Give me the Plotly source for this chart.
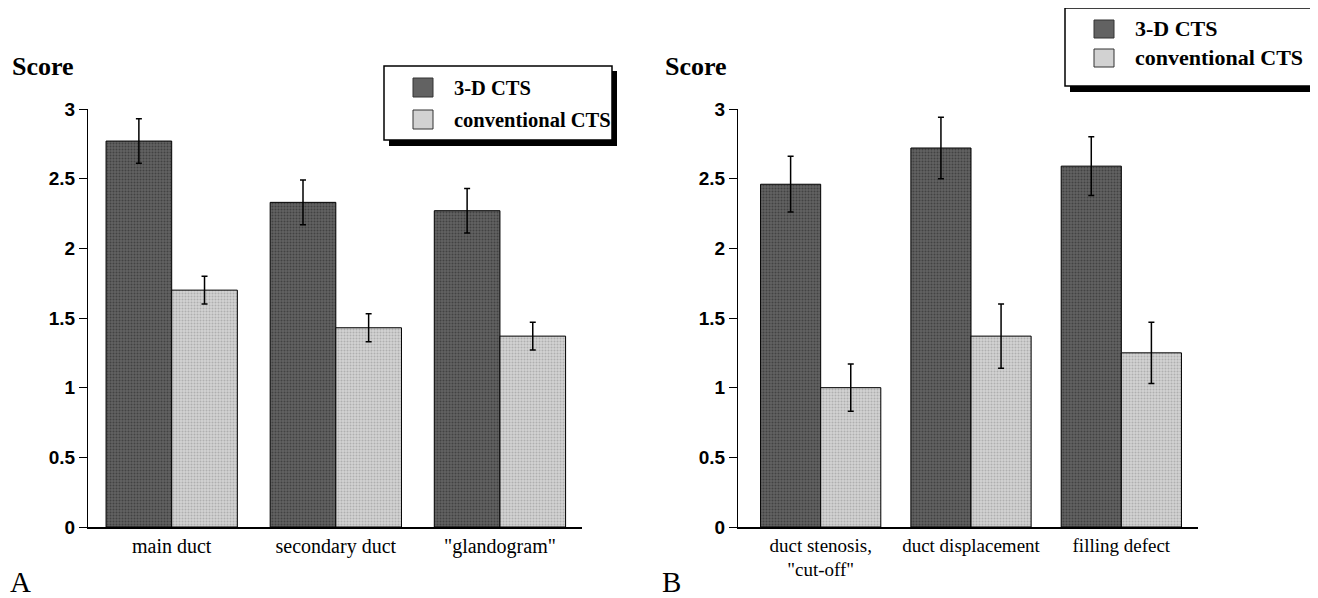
import plotly.graph_objects as go

W, H = 1318, 598
OFF = 8  # page offset of the rendered figure

cats_a = ["main duct", "secondary duct", "\"glandogram\""]
cts3d_a = [2.77, 2.33, 2.27]
cts3d_a_err = [0.16, 0.16, 0.16]
conv_a = [1.70, 1.43, 1.37]
conv_a_err = [0.10, 0.10, 0.10]

cats_b = ["duct stenosis,<br>\"cut-off\"", "duct displacement", "filling defect"]
cts3d_b = [2.46, 2.72, 2.59]
cts3d_b_err = [0.20, 0.22, 0.21]
conv_b = [1.00, 1.37, 1.25]
conv_b_err = [0.17, 0.23, 0.22]

series_names = ["3-D CTS", "conventional CTS"]

ytick_vals = [0, 0.5, 1, 1.5, 2, 2.5, 3]
ytick_text = ["0", "0.5", "1", "1.5", "2", "2.5", "3"]

DARK = "#505050"
LIGHT = "#bcbcbc"
DARK_PAT = dict(shape=".", fgcolor="#222222", bgcolor="#626262", size=3, solidity=0.35)
LIGHT_PAT = dict(shape=".", fgcolor="#8c8c8c", bgcolor="#d2d2d2", size=3, solidity=0.35)
SERIF = "Liberation Serif"
SANS = "Liberation Sans"


def px_x(p):
    return (p - OFF) / W


def px_y(p):
    return 1 - (p - OFF) / H


fig = go.Figure()


def add_pair(cats, v1, e1, v2, e2, xa, ya):
    fig.add_trace(go.Bar(
        x=list(range(len(cats))), y=v1, name=series_names[0],
        marker=dict(color=DARK, line=dict(color="black", width=1), pattern=DARK_PAT),
        error_y=dict(type="data", array=e1, color="black", thickness=1.5, width=3),
        xaxis=xa, yaxis=ya, showlegend=False))
    fig.add_trace(go.Bar(
        x=list(range(len(cats))), y=v2, name=series_names[1],
        marker=dict(color=LIGHT, line=dict(color="black", width=1), pattern=LIGHT_PAT),
        error_y=dict(type="data", array=e2, color="black", thickness=1.5, width=3),
        xaxis=xa, yaxis=ya, showlegend=False))


add_pair(cats_a, cts3d_a, cts3d_a_err, conv_a, conv_a_err, "x", "y")
add_pair(cats_b, cts3d_b, cts3d_b_err, conv_b, conv_b_err, "x2", "y2")

xcommon = dict(showline=True, linecolor="black", linewidth=1.5, ticks="", showgrid=False,
               zeroline=False, automargin=False)
ycommon = dict(range=[0, 3], tickvals=ytick_vals, ticktext=ytick_text, showline=True,
               linecolor="black", linewidth=1, ticks="outside", ticklen=8, tickcolor="black",
               tickwidth=1, showgrid=False, zeroline=False, automargin=False,
               tickfont=dict(family=SANS, size=19, color="black", weight="bold"))

fig.update_layout(
    width=W, height=H,
    paper_bgcolor="white", plot_bgcolor="white",
    margin=dict(l=0, r=0, t=0, b=0, autoexpand=False),
    barmode="group", bargap=0.2, bargroupgap=0,
    xaxis=dict(domain=[px_x(88), px_x(582)], range=[-0.51, 2.5], anchor="y",
               tickvals=[0, 1, 2], ticktext=cats_a,
               tickfont=dict(family=SERIF, size=20, color="black"), **xcommon),
    yaxis=dict(domain=[px_y(527), px_y(109)], anchor="x", **ycommon),
    xaxis2=dict(domain=[px_x(738), px_x(1198)], range=[-0.55, 2.51], anchor="y2",
                tickvals=[0, 1, 2], ticktext=cats_b,
                tickfont=dict(family=SERIF, size=19, color="black"), **xcommon),
    yaxis2=dict(domain=[px_y(527), px_y(109)], anchor="x2", **ycommon),
    showlegend=False,
)


def draw_legend(box, sw_x, sw_ys, text_x, text_ys, fsize):
    x0, y0, x1, y1 = box
    # drop shadow
    fig.add_shape(type="rect", xref="paper", yref="paper",
                  x0=px_x(x0 + 5), x1=px_x(x1 + 5), y0=px_y(y1 + 6), y1=px_y(y0 + 5),
                  fillcolor="black", line=dict(width=0), layer="above")
    fig.add_shape(type="rect", xref="paper", yref="paper",
                  x0=px_x(x0), x1=px_x(x1), y0=px_y(y1), y1=px_y(y0),
                  fillcolor="white", line=dict(color="black", width=1.5), layer="above")
    for (sy0, sy1), pat in zip(sw_ys, [DARK_PAT, LIGHT_PAT]):
        fig.add_shape(type="rect", xref="paper", yref="paper",
                      x0=px_x(sw_x[0]), x1=px_x(sw_x[1]), y0=px_y(sy1), y1=px_y(sy0),
                      fillcolor=pat["bgcolor"], line=dict(color="#333333", width=1),
                      layer="above")
    for name, ty in zip(series_names, text_ys):
        fig.add_annotation(text=name, xref="paper", yref="paper", x=px_x(text_x), y=px_y(ty),
                           xanchor="left", yanchor="middle", showarrow=False,
                           font=dict(family=SERIF, size=fsize, color="black", weight="bold"))


draw_legend((384, 66, 612, 140), (413, 433), [(78, 97), (110, 129)], 452, [88, 120], 20.5)
draw_legend((1065, 8, 1311, 86), (1094, 1114), [(20, 38), (49, 67)], 1133, [29, 58], 22)

ann_font_score = dict(family=SERIF, size=26, color="black", weight="bold")
fig.add_annotation(text="Score", xref="paper", yref="paper", x=px_x(10), y=px_y(66),
                   xanchor="left", yanchor="middle", showarrow=False, font=ann_font_score)
fig.add_annotation(text="Score", xref="paper", yref="paper", x=px_x(663), y=px_y(66),
                   xanchor="left", yanchor="middle", showarrow=False, font=ann_font_score)
fig.add_annotation(text="A", xref="paper", yref="paper", x=0, y=px_y(582),
                   xanchor="left", yanchor="middle", showarrow=False,
                   font=dict(family=SERIF, size=29, color="black"))
fig.add_annotation(text="B", xref="paper", yref="paper", x=px_x(660), y=px_y(582),
                   xanchor="left", yanchor="middle", showarrow=False,
                   font=dict(family=SERIF, size=29, color="black"))

fig.write_html("out.html")
